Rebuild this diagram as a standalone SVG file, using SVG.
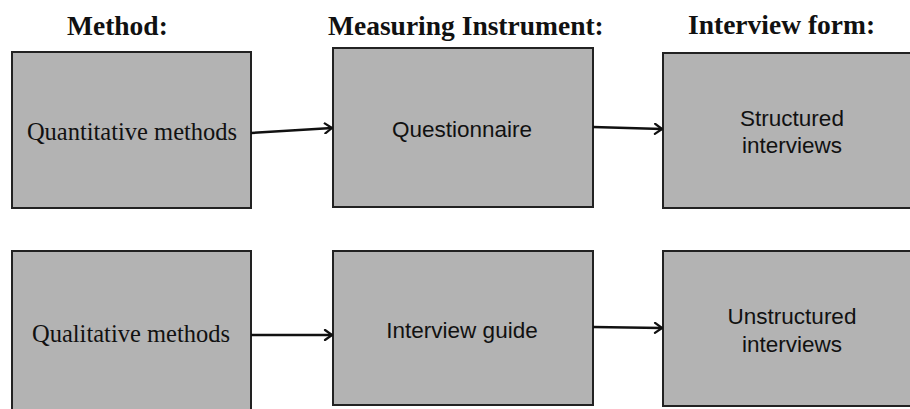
<svg xmlns="http://www.w3.org/2000/svg" width="910" height="409" viewBox="0 0 910 409">
<defs>
<marker id="arr" viewBox="0 0 10 12" refX="9" refY="6" markerWidth="10" markerHeight="12" markerUnits="userSpaceOnUse" orient="auto">
<path d="M2,1 L9,6 L2,11" fill="none" stroke="#111" stroke-width="2.2" stroke-linecap="round" stroke-linejoin="round"/>
</marker>
</defs>
<style>
.box{fill:#b3b3b3;stroke:#222;stroke-width:2}
.head{font-family:"Liberation Serif","Times New Roman",serif;font-weight:bold;font-size:27.5px;fill:#111}
.serif{font-family:"Liberation Serif","Times New Roman",serif;font-size:24.5px;fill:#111;text-anchor:middle}
.sans{font-family:"Liberation Sans",Arial,sans-serif;font-size:22.5px;fill:#111;text-anchor:middle}
.conn{fill:none;stroke:#111;stroke-width:2.5;marker-end:url(#arr)}
</style>
<rect width="910" height="409" fill="#fff"/>
<g id="headings">
<text class="head" x="67" y="35">Method:</text>
<text class="head" x="328" y="35">Measuring Instrument:</text>
<text class="head" x="688" y="34">Interview form:</text>
</g>
<g id="n1">
<rect class="box" x="12" y="52" width="239" height="156"/>
<text class="serif" x="132" y="140">Quantitative methods</text>
</g>
<g id="n2">
<rect class="box" x="333" y="48" width="260" height="159"/>
<text class="sans" x="462" y="137">Questionnaire</text>
</g>
<g id="n3">
<rect class="box" x="663" y="53" width="262" height="155"/>
<text class="sans" x="792" y="126">Structured</text>
<text class="sans" x="792" y="153">interviews</text>
</g>
<g id="n4">
<rect class="box" x="12" y="251" width="239" height="170"/>
<text class="serif" x="131" y="342">Qualitative methods</text>
</g>
<g id="n5">
<rect class="box" x="333" y="251" width="260" height="154"/>
<text class="sans" x="462" y="338">Interview guide</text>
</g>
<g id="n6">
<rect class="box" x="663" y="251" width="262" height="155"/>
<text class="sans" x="792" y="324">Unstructured</text>
<text class="sans" x="792" y="352">interviews</text>
</g>
<g id="connectors">
<line class="conn" x1="251" y1="133" x2="332" y2="128"/>
<line class="conn" x1="593" y1="127" x2="662" y2="129"/>
<line class="conn" x1="251" y1="335" x2="332" y2="335"/>
<line class="conn" x1="593" y1="327" x2="662" y2="328"/>
</g>
</svg>
